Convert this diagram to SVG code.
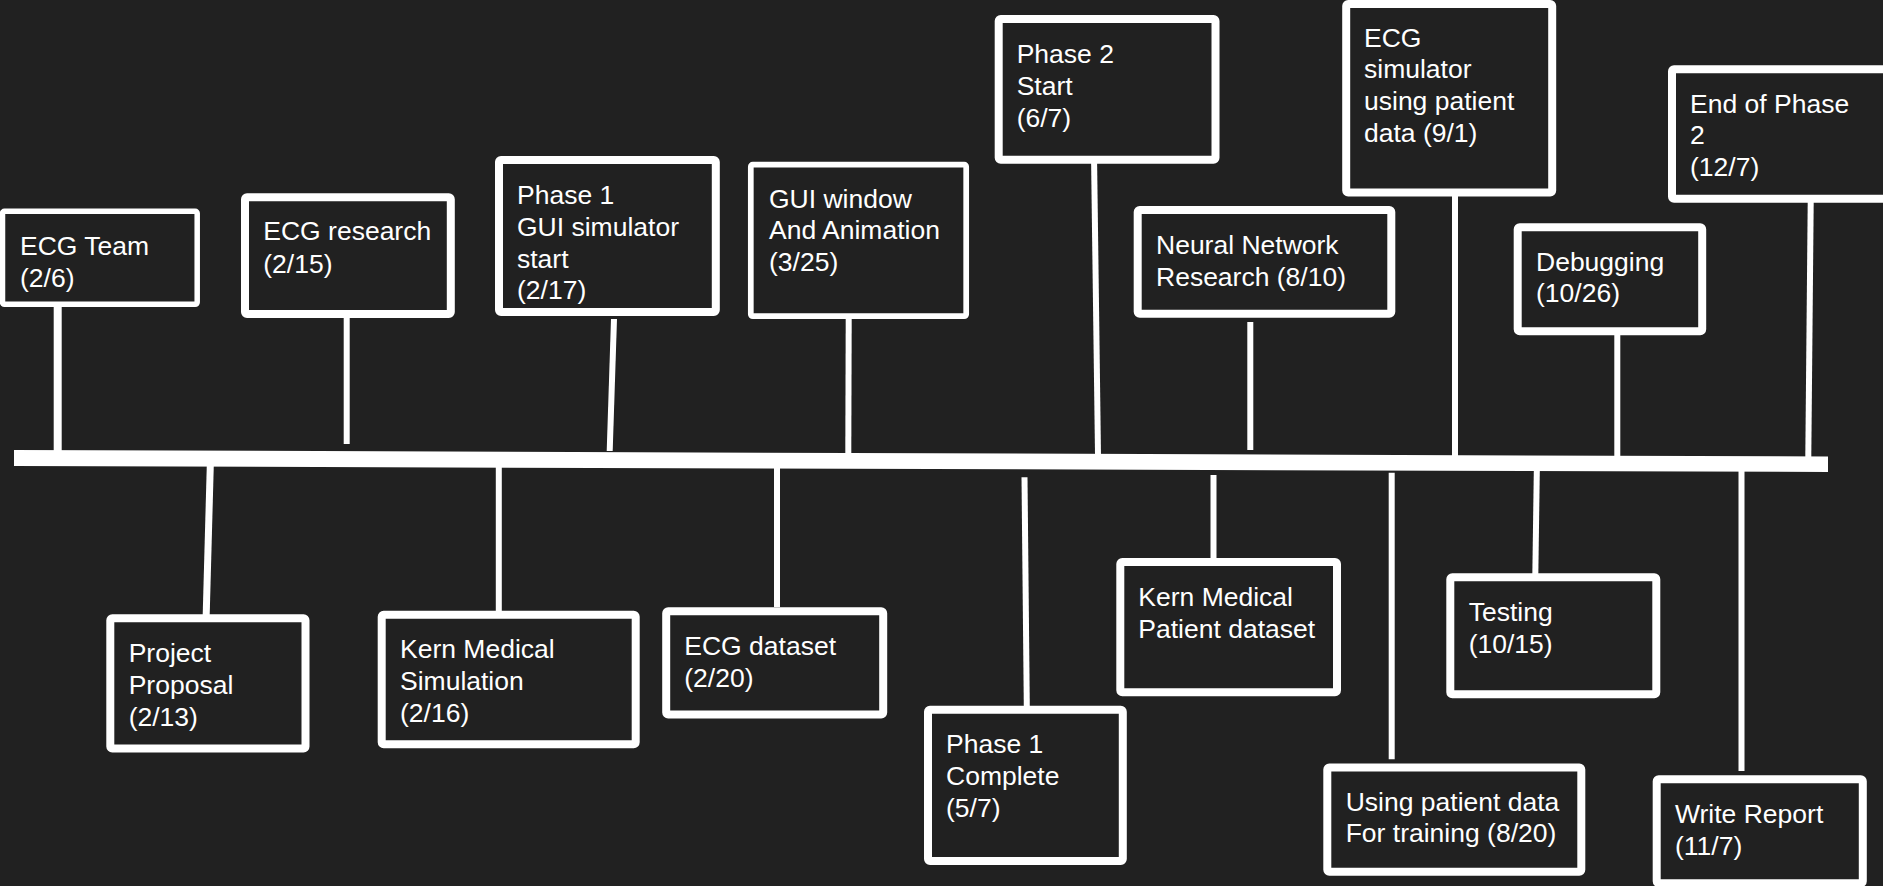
<svg xmlns="http://www.w3.org/2000/svg" width="1883" height="886" viewBox="0 0 1883 886">
<style>
.box{fill:#212121;stroke:#ffffff;stroke-width:8}
.thin{stroke-width:5.7}
.lbl{font-family:"Liberation Sans",Arial,sans-serif;font-size:26.5px;fill:#ffffff}
.conn line{stroke:#ffffff;stroke-width:6}
</style>
<rect x="0" y="0" width="1883" height="886" fill="#212121"/>
<g id="connectors" class="conn">
<polygon points="14,450 1828,456.5 1828,472 14,466" fill="#ffffff"/>
<line x1="57.7" y1="298" x2="57.7" y2="452" style="stroke-width:8"/>
<line x1="346.7" y1="317" x2="346.7" y2="444"/>
<line x1="614" y1="319" x2="609.7" y2="451"/>
<line x1="848.7" y1="319" x2="848.3" y2="453"/>
<line x1="1094" y1="154" x2="1098" y2="455"/>
<line x1="1250.3" y1="322" x2="1250.3" y2="450"/>
<line x1="1455" y1="196" x2="1455" y2="456"/>
<line x1="1617.3" y1="335" x2="1617.3" y2="456"/>
<line x1="1810.7" y1="202" x2="1808.3" y2="457"/>
<line x1="210.3" y1="465" x2="206" y2="622" style="stroke-width:7"/>
<line x1="498.8" y1="467" x2="498.8" y2="611"/>
<line x1="777" y1="468" x2="777" y2="607"/>
<line x1="1024.5" y1="477.3" x2="1026.8" y2="706"/>
<line x1="1213.5" y1="475" x2="1213.5" y2="567"/>
<line x1="1391.7" y1="472.7" x2="1391.7" y2="759.3"/>
<line x1="1536.8" y1="471" x2="1535.2" y2="583"/>
<line x1="1741.5" y1="471" x2="1741.5" y2="771"/>
</g>
<g id="n-ecg-team">
<rect class="box" x="2.5" y="211.3" width="194.7" height="93" rx="2" style="stroke-width:5.5"/>
<text class="lbl" x="20" y="255.3">ECG Team</text>
<text class="lbl" x="20" y="286.7">(2/6)</text>
</g>
<g id="n-ecg-research">
<rect class="box" x="245" y="197.3" width="205.8" height="116.7" rx="2"/>
<text class="lbl" x="263.3" y="240">ECG research</text>
<text class="lbl" x="263.3" y="272.7">(2/15)</text>
</g>
<g id="n-phase1-start">
<rect class="box" x="499" y="160" width="216.8" height="152" rx="2"/>
<text class="lbl" x="517" y="204">Phase 1</text>
<text class="lbl" x="517" y="235.7">GUI simulator</text>
<text class="lbl" x="517" y="267.5">start</text>
<text class="lbl" x="517" y="299.3">(2/17)</text>
</g>
<g id="n-gui-window">
<rect class="box thin" x="750.8" y="164.7" width="215.4" height="151.5" rx="2"/>
<text class="lbl" x="769" y="207.7">GUI window</text>
<text class="lbl" x="769" y="239.3">And Animation</text>
<text class="lbl" x="769" y="271">(3/25)</text>
</g>
<g id="n-phase2-start">
<rect class="box" x="998.7" y="19" width="216.8" height="140.8" rx="2"/>
<text class="lbl" x="1016.7" y="63.3">Phase 2</text>
<text class="lbl" x="1016.7" y="95">Start</text>
<text class="lbl" x="1016.7" y="126.7">(6/7)</text>
</g>
<g id="n-neural-network">
<rect class="box" x="1137.7" y="210" width="253.6" height="103.8" rx="2"/>
<text class="lbl" x="1156" y="254">Neural Network</text>
<text class="lbl" x="1156" y="285.7">Research (8/10)</text>
</g>
<g id="n-ecg-simulator">
<rect class="box" x="1346.2" y="4" width="206" height="188.5" rx="2"/>
<text class="lbl" x="1364" y="46.7">ECG</text>
<text class="lbl" x="1364" y="78.3">simulator</text>
<text class="lbl" x="1364" y="110">using patient</text>
<text class="lbl" x="1364" y="141.7">data (9/1)</text>
</g>
<g id="n-debugging">
<rect class="box" x="1517.7" y="227.3" width="184.5" height="104" rx="2"/>
<text class="lbl" x="1536" y="270.7">Debugging</text>
<text class="lbl" x="1536" y="302.3">(10/26)</text>
</g>
<g id="n-end-phase2">
<rect class="box" x="1672" y="69.3" width="240" height="129.5" rx="2"/>
<text class="lbl" x="1690" y="112.7">End of Phase</text>
<text class="lbl" x="1690" y="144">2</text>
<text class="lbl" x="1690" y="176">(12/7)</text>
</g>
<g id="n-project-proposal">
<rect class="box" x="110.3" y="618.3" width="195.2" height="130.2" rx="2"/>
<text class="lbl" x="128.7" y="661.7">Project</text>
<text class="lbl" x="128.7" y="694">Proposal</text>
<text class="lbl" x="128.7" y="725.7">(2/13)</text>
</g>
<g id="n-kern-simulation">
<rect class="box" x="381.7" y="614.7" width="254" height="129.5" rx="2"/>
<text class="lbl" x="400" y="658.3">Kern Medical</text>
<text class="lbl" x="400" y="690">Simulation</text>
<text class="lbl" x="400" y="721.7">(2/16)</text>
</g>
<g id="n-ecg-dataset">
<rect class="box" x="666.2" y="611.3" width="217" height="103.2" rx="2"/>
<text class="lbl" x="684.3" y="655">ECG dataset</text>
<text class="lbl" x="684.3" y="686.7">(2/20)</text>
</g>
<g id="n-phase1-complete">
<rect class="box" x="928" y="709.7" width="194.8" height="151.3" rx="2"/>
<text class="lbl" x="946" y="753.3">Phase 1</text>
<text class="lbl" x="946" y="785">Complete</text>
<text class="lbl" x="946" y="816.7">(5/7)</text>
</g>
<g id="n-kern-patient">
<rect class="box" x="1120.3" y="562" width="216.7" height="130.2" rx="2"/>
<text class="lbl" x="1138.3" y="605.7">Kern Medical</text>
<text class="lbl" x="1138.3" y="637.7">Patient dataset</text>
</g>
<g id="n-using-patient">
<rect class="box" x="1327.3" y="767.5" width="254" height="104.2" rx="2"/>
<text class="lbl" x="1345.7" y="810.7">Using patient data</text>
<text class="lbl" x="1345.7" y="842.3">For training (8/20)</text>
</g>
<g id="n-testing">
<rect class="box" x="1450.3" y="577.3" width="206" height="117" rx="2"/>
<text class="lbl" x="1468.7" y="621">Testing</text>
<text class="lbl" x="1468.7" y="652.7">(10/15)</text>
</g>
<g id="n-write-report">
<rect class="box" x="1656.7" y="779.2" width="206.1" height="104" rx="2"/>
<text class="lbl" x="1675" y="823.3">Write Report</text>
<text class="lbl" x="1675" y="855">(11/7)</text>
</g>
</svg>
